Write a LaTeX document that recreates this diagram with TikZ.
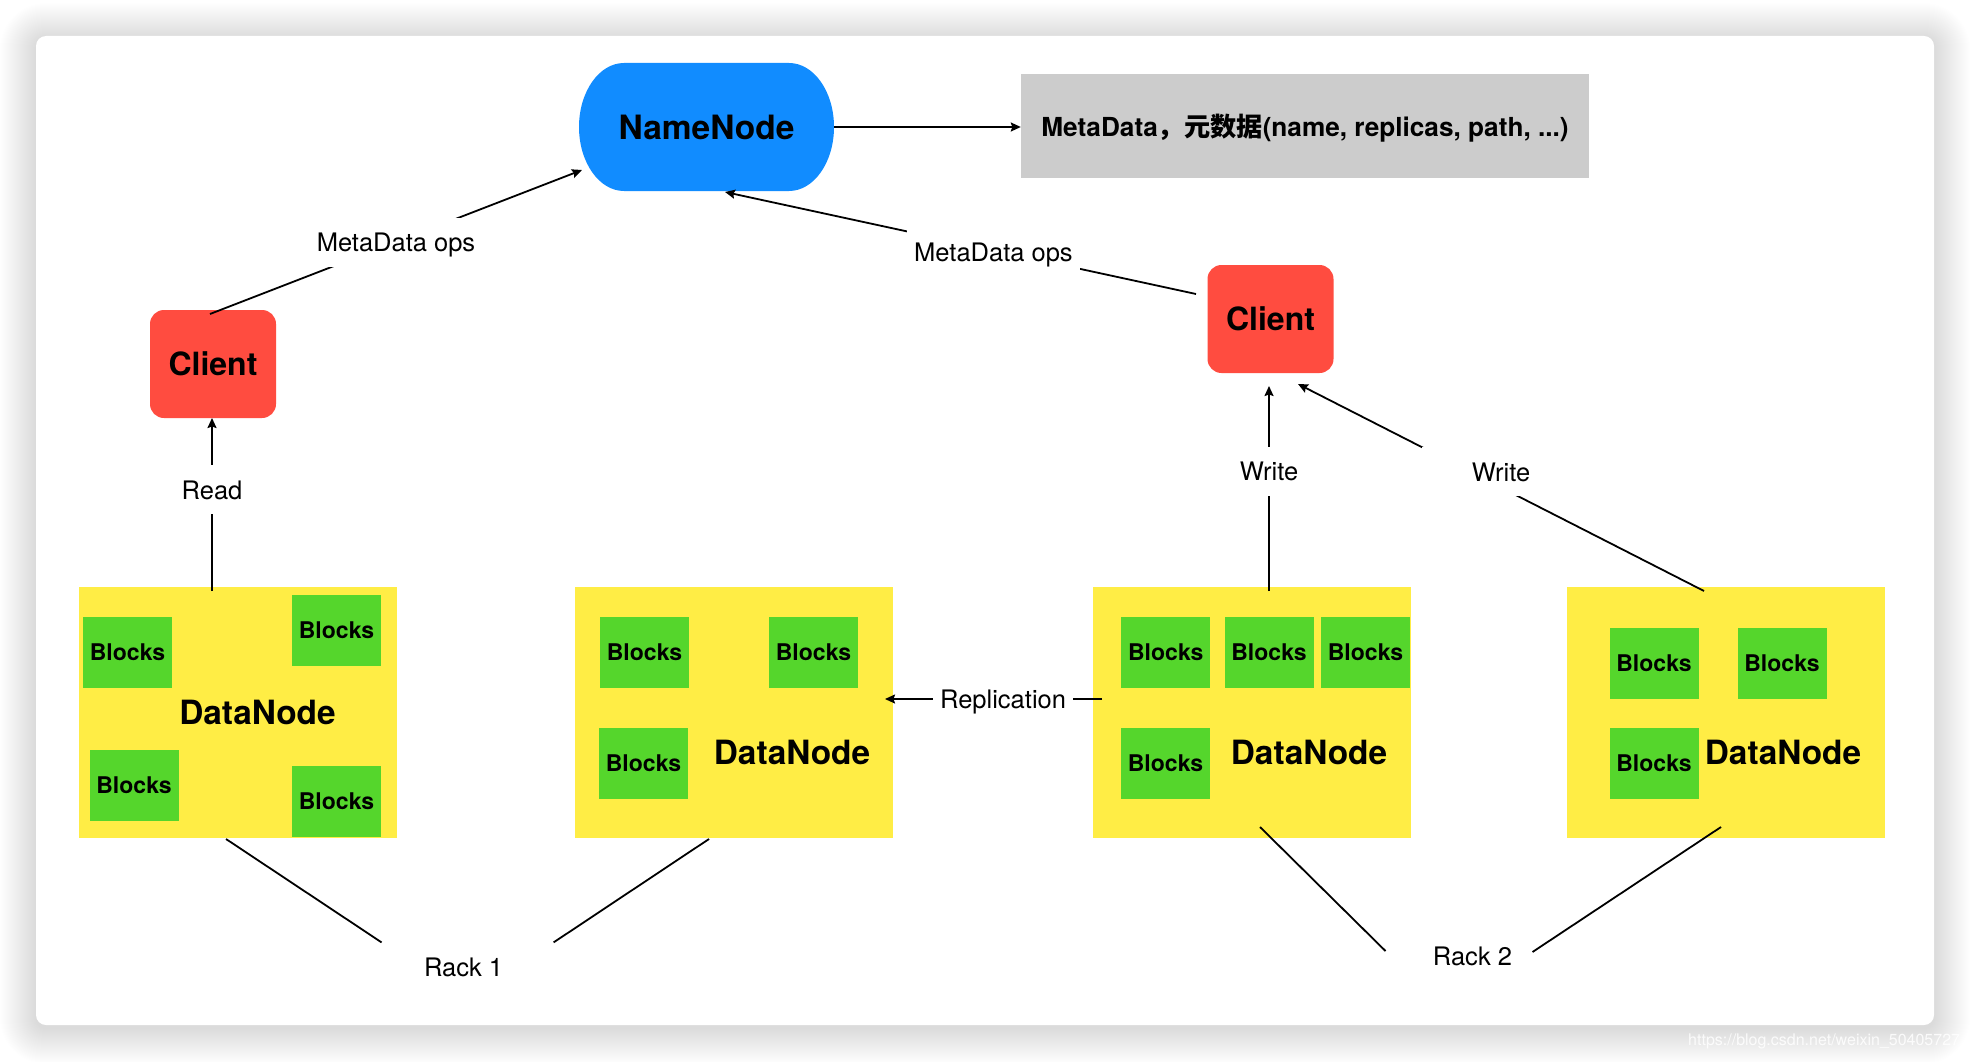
\documentclass[tikz,border=0pt]{standalone}
\usepackage{fontspec}
\setmainfont{TeX Gyre Heros}
\newfontfamily\cjk{Noto Sans CJK SC}
\usetikzlibrary{arrows.meta,calc}
\definecolor{nnblue}{RGB}{17,140,255}
\definecolor{clred}{RGB}{255,76,64}
\definecolor{dnyellow}{RGB}{255,237,69}
\definecolor{blkgreen}{RGB}{85,214,44}
\definecolor{metagray}{RGB}{204,204,204}
\tikzset{
  conn/.style={line width=1.8pt, draw=black},
  arr/.style={conn, -{Stealth[length=10pt,width=9pt,inset=1.5pt]}},
  lbl/.style={fill=white, font=\fontsize{25.5}{30}\selectfont, text height=22pt, text depth=3pt, inner xsep=7pt, inner ysep=12pt},
  blk/.style={fill=blkgreen, minimum width=89pt, minimum height=71pt, inner sep=0pt, font=\bfseries\fontsize{23}{27}\selectfont},
  dnbox/.style={fill=dnyellow, minimum width=318pt, minimum height=251pt, inner sep=0pt},
  dntext/.style={font=\bfseries\fontsize{33.4}{40}\selectfont, inner sep=0pt},
  client/.style={fill=clred, rounded corners=14pt, minimum width=126pt, minimum height=108pt, inner sep=0pt, font=\bfseries\fontsize{32}{38}\selectfont},
  racklbl/.style={font=\fontsize{25.5}{30}\selectfont, inner sep=0pt},
}
\begin{document}
\begin{tikzpicture}[x=1pt,y=-1pt]
\useasboundingbox (0,0) rectangle (1970,1062);
\fill[white] (0,0) rectangle (1970,1062);
% shadow of the frame
\foreach \i in {1,...,36} {
  \fill[black, opacity=0.0055, rounded corners=10pt+\i pt] (36-\i,36-\i+3) rectangle (1934+\i,1025+\i+3);
}
\fill[white, rounded corners=10pt] (36,36) rectangle (1934,1025);
% watermark
\begin{scope}
  \clip (0,0) rectangle (1970,1062);
  \node[anchor=west, text=white, opacity=0.85, font=\fontsize{16}{19}\selectfont, inner sep=0pt] (wm) at (1688,1041) {https://blog.csdn.net/weixin\_50405727};
\end{scope}

% NameNode
\fill[nnblue] (624,63) -- (789,63) arc[start angle=-90,end angle=90,x radius=45,y radius=64] -- (624,191) arc[start angle=90,end angle=270,x radius=45,y radius=64] -- cycle;
\node[inner sep=0pt, minimum width=255pt, minimum height=128pt, font=\bfseries\fontsize{33.5}{40}\selectfont] (nn) at (706.5,127) {NameNode};

% metadata box
\node[fill=metagray, minimum width=568pt, minimum height=104pt, inner sep=0pt, text height=25pt, text depth=3pt, font=\bfseries\fontsize{26.2}{32}\selectfont] (meta) at (1305,126) {MetaData{\cjk ，元数据}(name, replicas, path, ...)};

% clients
\node[client] (cl) at (213,364) {Client};
\node[client] (cr) at (1270.5,319) {Client};

% data nodes
\node[dnbox] (dn1) at (238,712.5) {};
\node[dnbox] (dn2) at (734,712.5) {};
\node[dnbox] (dn3) at (1251.5,712.5) {};
\node[dnbox] (dn4) at (1726,712.5) {};

% blocks
\node[blk] (b11) at (127.5,652) {Blocks};
\node[blk] (b12) at (336.5,630.5) {Blocks};
\node[blk] (b13) at (134,785.5) {Blocks};
\node[blk] (b14) at (336.5,801.5) {Blocks};
\node[blk] (b21) at (644.5,652.5) {Blocks};
\node[blk] (b22) at (813.5,652.5) {Blocks};
\node[blk] (b23) at (643.5,763.5) {Blocks};
\node[blk] (b31) at (1165.75,652.5) {Blocks};
\node[blk] (b32) at (1269,652.5) {Blocks};
\node[blk] (b33) at (1365.5,652.5) {Blocks};
\node[blk] (b34) at (1165.5,763.5) {Blocks};
\node[blk] (b41) at (1654,663.5) {Blocks};
\node[blk] (b42) at (1782,663.5) {Blocks};
\node[blk] (b43) at (1654,763.5) {Blocks};

% data node titles
\node[dntext] (dt1) at (257.5,712) {DataNode};
\node[dntext] (dt2) at (792,752) {DataNode};
\node[dntext] (dt3) at (1309,752) {DataNode};
\node[dntext] (dt4) at (1783,752) {DataNode};

% rack labels
\node[racklbl] (rack1) at (463.6,967.4) {Rack 1};
\node[racklbl] (rack2) at (1472.5,956) {Rack 2};

% connectors
\draw[arr] (nn.east) -- (nn.east -| meta.west);
\draw[arr] ($(cl)+(-3,-50)$) -- node[lbl]{MetaData ops} ($(nn)+(-124.5,43)$);
\draw[arr] ($(cr)+(-74.5,-25)$) -- node[lbl,pos=0.43,yshift=-2pt]{MetaData ops} ($(nn)+(18.5,65)$);
\draw[arr] ($(dn1)+(-26,-121.5)$) -- node[lbl,pos=0.584]{Read} ($(cl)+(-1,54)$);
\draw[arr] ($(dn3)+(17.5,-121.5)$) -- node[lbl,pos=0.585]{Write} ($(cr)+(-1.5,67)$);
\draw[arr] ($(dn4)+(-22,-121.5)$) -- node[lbl,pos=0.5,yshift=16pt,inner xsep=50pt]{Write} ($(cr)+(27.5,65)$);
\draw[arr] ($(dn3)+(-149.5,-13.5)$) -- node[lbl,pos=0.456]{Replication} ($(dn2)+(151,-13.5)$);
\draw[conn] ($(dn1)+(-12,126.5)$) -- ($(rack1)+(-82,-25)$);
\draw[conn] ($(dn2)+(-25,126.5)$) -- ($(rack1)+(90,-25)$);
\draw[conn] ($(dn3)+(8.5,114.5)$) -- ($(rack2)+(-87,-5)$);
\draw[conn] ($(dn4)+(-5,114.5)$) -- ($(rack2)+(60,-4)$);
\end{tikzpicture}
\end{document}
